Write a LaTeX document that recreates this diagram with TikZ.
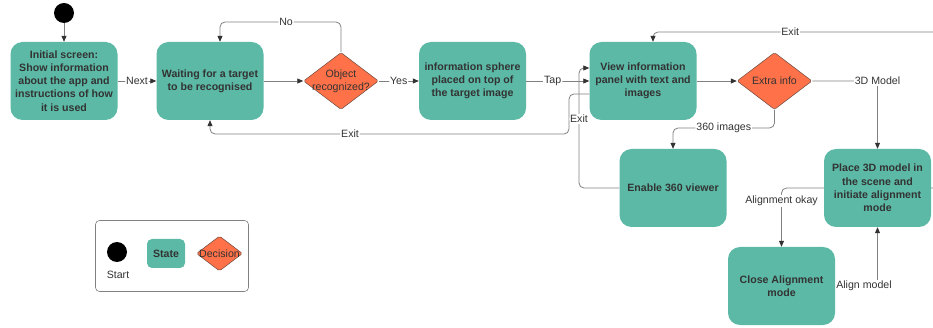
\documentclass[tikz,border=0pt]{standalone}
\usepackage{fontspec}
\setmainfont{Liberation Sans}
\usetikzlibrary{arrows.meta,shapes.geometric,calc}
\definecolor{tealbox}{HTML}{5BB9A6}
\definecolor{orng}{HTML}{FF7148}
\definecolor{txt}{HTML}{333333}
\definecolor{ln}{HTML}{808080}
\definecolor{dborder}{HTML}{6B4A3E}
\begin{document}
\begin{tikzpicture}[x=1pt,y=-1pt,
  font=\fontsize{10.6}{13.2}\selectfont,
  state/.style={rectangle, rounded corners=12pt, fill=tealbox, text=txt,
    font=\fontsize{10.6}{13.2}\selectfont\bfseries, minimum width=107pt,
    minimum height=78pt, align=center, inner sep=0pt},
  dec/.style={diamond, fill=orng, draw=dborder, line width=0.5pt,
    rounded corners=1.5pt, minimum width=75pt, minimum height=57pt, inner sep=0pt},
  dtext/.style={text=txt, align=center, inner sep=0pt},
  conn/.style={draw=ln, line width=0.8pt, rounded corners=5pt,
    -{Triangle[length=6pt,width=5pt,color=txt,fill=txt]}},
  lab/.style={fill=white, text=txt, inner sep=1pt},
  startdot/.style={circle, fill=black, minimum size=20pt, inner sep=0pt},
]
\useasboundingbox (0,0) rectangle (933,328);
\clip (0,0) rectangle (933,328);

% nodes
\node[startdot] (start) at (64,13) {};
\node[state] (init) at (64,81) {Initial screen:\\Show information\\about the app and\\instructions of how\\it is used};
\node[state] (wait) at (210,81) {Waiting for a target\\to be recognised};
\node[dec] (obj) at (341,81) {};
\node[dtext] (objt) at (obj) {Object\\recognized?};
\node[state] (sphere) at (472.5,81) {information sphere\\placed on top of\\the target image};
\node[state] (view) at (643,81) {View information\\panel with text and\\images};
\node[dec] (extra) at (774.5,81) {};
\node[dtext] (extrat) at (extra) {Extra info};
\node[state] (e360) at (673,188) {Enable 360 viewer};
\node[state] (place) at (877.5,188) {Place 3D model in\\the scene and\\initiate alignment\\mode};
\node[state] (close) at (781.5,286) {Close Alignment\\mode};

% legend
\node[draw=ln, rounded corners=4pt, line width=0.6pt, minimum width=153pt, minimum height=71pt] (legend) at (172,256) {};
\node[startdot] (lstart) at (117,252) {};
\node[text=txt, inner sep=0pt] (lstartt) at (118,275) {Start};
\node[state, minimum width=38pt, minimum height=29pt, rounded corners=5pt] (lstate) at (166,253.5) {State};
\node[dec, minimum width=46pt, minimum height=35pt] (ldec) at (219.5,253.5) {};
\node[dtext] (ldect) at (ldec) {Decision};

% connectors
\draw[conn] (start) -- (init);
\draw[conn] (init) -- node[lab]{Next} (wait);
\draw[conn] (wait) -- (obj);
\coordinate (noc) at (220,22);
\draw[conn] (obj.north) |- node[lab, pos=0.727]{No} (noc) -- (noc |- wait.north);
\draw[conn] (obj) -- node[lab]{Yes} (sphere);
\draw[conn] (sphere) -- node[lab, pos=0.42]{Tap} (view);
\draw[conn] ($(view.west)+(0,13)$) -- (569,94) -- (569,134) -- node[lab, pos=0.61]{Exit} (210,134) -- (wait.south);
\draw[conn] (e360.west) -- (579,188) -- node[lab, pos=0.575]{Exit} (579,68) -- ($(view.west)+(0,-13)$);
\draw[conn] (view) -- (extra);
\draw[conn] (extra.south) -- (774.5,128) -- node[lab]{360 images} (673,128) -- (e360.north);
\draw[conn] (extra.east) -| node[lab, pos=0.5]{3D Model} (place.north);
\draw[conn] (place.west) -| node[lab, pos=0.61]{Alignment okay} (close.north);
\draw[conn] (close.east) -| node[lab, pos=0.34]{Align model} (place.south);
\coordinate (offr) at (945,32);
\draw[conn] (place.east) -- (offr |- place.east) -- (offr) -- node[lab, pos=0.53]{Exit} (653,32) -- ($(view.north)+(10,0)$);
\end{tikzpicture}
\end{document}
